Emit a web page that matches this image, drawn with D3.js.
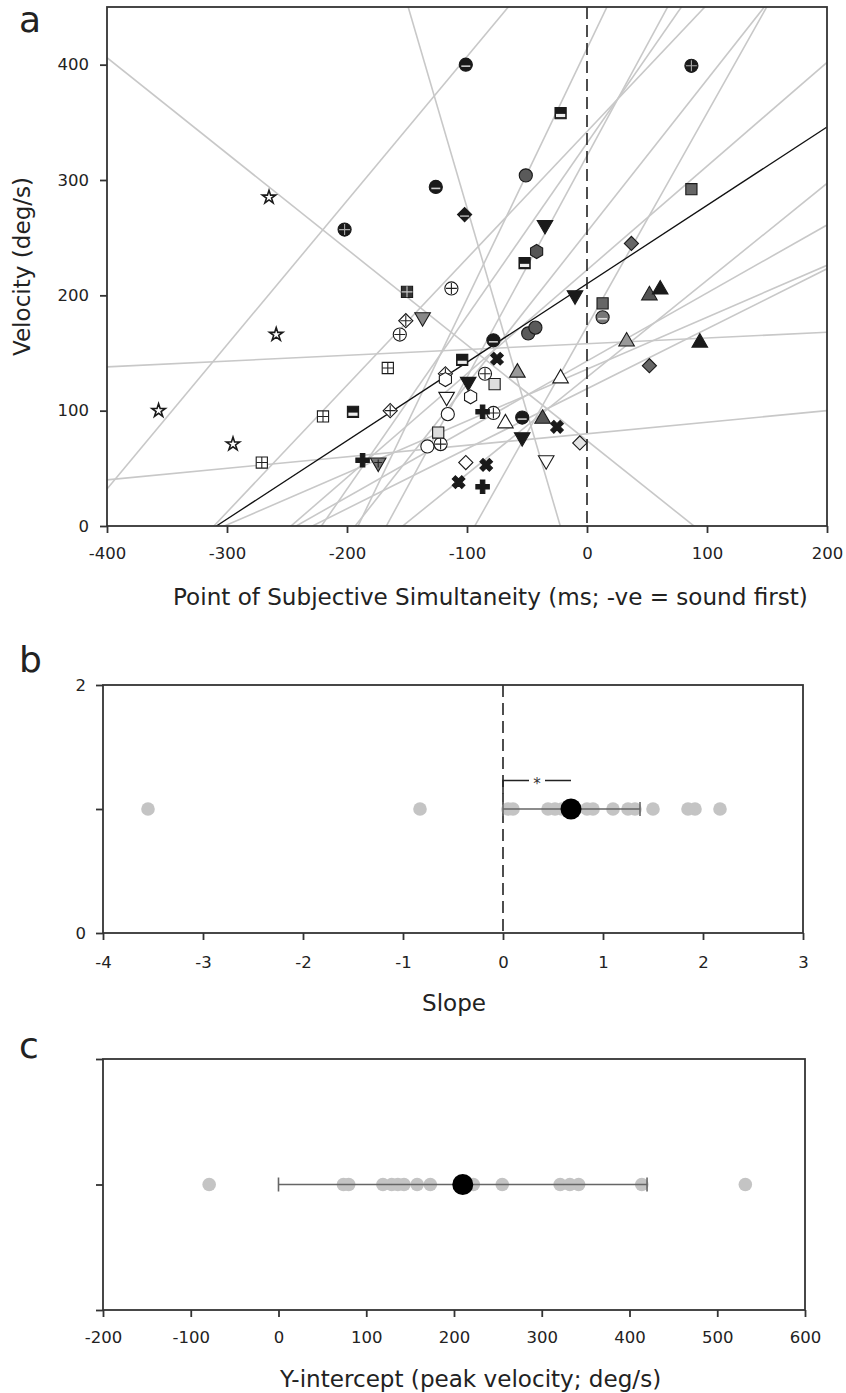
<!DOCTYPE html>
<html>
<head>
<meta charset="utf-8">
<script src="https://cdn.jsdelivr.net/npm/d3@7"></script>
<style>
  body { margin: 0; background: #fff; }
  svg { display: block; font-family: "DejaVu Sans", sans-serif; }
</style>
</head>
<body>
<svg id="chart" width="846" height="1393"></svg>
<script>
// ---- values ----

// panel a points: PSS (ms), peak velocity (deg/s), marker of the observer
var pssMs = [
  -357, -295, -265, -259,          // star
  -202, 87,                        // black circle, cross
  -126, -101, -78, -54,            // black circle, bar
  -102,                            // black diamond, bar
  -22, -52, -104, -195,            // black square, bar
  -51, -49, -43,                   // dark circle
  87, 13,                          // dark square
  -42,                             // dark hexagon
  37, 52,                          // dark diamond
  -35, -10, -99, -54,              // black down-triangle
  -137,                            // grey down-triangle
  -150,                            // dark grid square
  -166, -220, -271,                // grid square
  -113, -156, -85, -78, -122,      // open circle, cross
  13,                              // grey circle, bar
  -151, -164, -118,                // open diamond, cross
  -117, -34,                       // open down-triangle
  -116, -133,                      // open circle
  -97, -118,                       // open hexagon
  -58, -37, 33, 52,                // grey / dark triangles
  61, 94,                          // black triangle
  -68, -22,                        // open triangle
  -101, -6,                        // open diamonds
  -75, -25, -84, -107,             // x
  -187, -87, -87,                  // plus
  -77, -124,                       // light square
  -174                             // grid down-triangle
];
var velocity = [
  100, 71, 285, 166,
  257, 399,
  294, 400, 161, 94,
  270,
  358, 228, 144, 99,
  304, 167, 172,
  292, 193,
  238,
  245, 139,
  261, 200, 125, 77,
  181,
  203,
  137, 95, 55,
  206, 166, 132, 98, 71,
  181,
  178, 100, 132,
  112, 57,
  97, 69,
  112, 127,
  133, 93, 160, 200,
  205, 159,
  89, 128,
  55, 72,
  145, 86, 53, 38,
  57, 34, 99,
  123, 81,
  55
];
var markerKeys = [
  'star', 'star', 'star', 'star',
  'circBlackCross', 'circBlackCross',
  'circBlackBar', 'circBlackBar', 'circBlackBar', 'circBlackBar',
  'diaBlackBar',
  'sqBlackBar', 'sqBlackBar', 'sqBlackBar', 'sqBlackBar',
  'circDark', 'circDark', 'circDark',
  'sqDark', 'sqDark',
  'hexDark',
  'diaDark', 'diaDark',
  'triDownBlack', 'triDownBlack', 'triDownBlack', 'triDownBlack',
  'triDownGray',
  'sqGridDark',
  'sqGrid', 'sqGrid', 'sqGrid',
  'circCross', 'circCross', 'circCross', 'circCross', 'circCross',
  'circGrayBar',
  'diaCross', 'diaCross', 'diaCross',
  'triDownWhite', 'triDownWhite',
  'circWhite', 'circWhite',
  'hexWhite', 'hexWhite',
  'triGray', 'triDark', 'triGray', 'triDark',
  'triBlack', 'triBlack',
  'triWhite', 'triWhite',
  'diaWhite', 'diaLight',
  'xBlack', 'xBlack', 'xBlack', 'xBlack',
  'plusBlack', 'plusBlack', 'plusBlack',
  'sqLight', 'sqLight',
  'triDownGrid'
];

// one regression line per observer (slope, y-intercept) -> panels a, b, c
var slopes     = [-3.55, -0.83, 0.05, 0.10, 1.25, 2.17, 1.10, 1.32, 1.92, 1.50, 1.85, 0.90, 0.84, 0.52, 0.45, 0.59];
var intercepts = [  -79,    74,  158,   80,  532,  414,  342,  255,  321,  332,  173,  222,  129,  119,  136,  143];

// group mean and its error bar
var meanSlope = 0.68;
var meanIntercept = 210;
var slopeCI = [0, 1.37];
var interceptCI = [0, 420];

// tick labels
var pssTicks = [-400, -300, -200, -100, 0, 100, 200];
var velocityTicks = [0, 100, 200, 300, 400];
var slopeTicks = [-4, -3, -2, -1, 0, 1, 2, 3];
var interceptTicks = [-200, -100, 0, 100, 200, 300, 400, 500, 600];

// ---- drawing ----
var svg = d3.select("#chart");
var ink = "#222";
var plain = function(d) { return String(d); };   // keeps the ascii hyphen of the figure

var markerStyles = {
  star:          { shape: 'star',     fill: '#fff' },
  circBlackCross:{ shape: 'circle',   fill: '#1a1a1a', pattern: 'cross', pc: '#aaa' },
  circBlackBar:  { shape: 'circle',   fill: '#1a1a1a', pattern: 'bar',   pc: '#ccc' },
  diaBlackBar:   { shape: 'diamond',  fill: '#1a1a1a', pattern: 'bar',   pc: '#aaa' },
  sqBlackBar:    { shape: 'square',   fill: '#1a1a1a', pattern: 'lower', pc: '#eee' },
  circDark:      { shape: 'circle',   fill: '#5a5a5a' },
  sqDark:        { shape: 'square',   fill: '#666' },
  hexDark:       { shape: 'hexagon',  fill: '#555' },
  diaDark:       { shape: 'diamond',  fill: '#666' },
  triDownBlack:  { shape: 'triDown',  fill: '#1a1a1a' },
  triDownGray:   { shape: 'triDown',  fill: '#888' },
  sqGridDark:    { shape: 'square',   fill: '#333', pattern: 'cross', pc: '#ccc' },
  sqGrid:        { shape: 'square',   fill: '#fff', pattern: 'cross', pc: '#222' },
  circCross:     { shape: 'circle',   fill: '#fff', pattern: 'cross', pc: '#222' },
  circGrayBar:   { shape: 'circle',   fill: '#777', pattern: 'bar',   pc: '#ddd' },
  diaCross:      { shape: 'diamond',  fill: '#fff', pattern: 'cross', pc: '#222' },
  triDownWhite:  { shape: 'triDown',  fill: '#fff' },
  circWhite:     { shape: 'circle',   fill: '#fff' },
  hexWhite:      { shape: 'hexagon',  fill: '#fff' },
  triGray:       { shape: 'triangle', fill: '#999' },
  triDark:       { shape: 'triangle', fill: '#555' },
  triBlack:      { shape: 'triangle', fill: '#1a1a1a' },
  triWhite:      { shape: 'triangle', fill: '#fff' },
  diaWhite:      { shape: 'diamond',  fill: '#fff' },
  diaLight:      { shape: 'diamond',  fill: '#e4e4e4' },
  xBlack:        { shape: 'times',    fill: '#1a1a1a' },
  plusBlack:     { shape: 'plus',     fill: '#1a1a1a' },
  sqLight:       { shape: 'square',   fill: '#ddd' },
  triDownGrid:   { shape: 'triDown',  fill: '#777', pattern: 'cross', pc: '#222' }
};

function hexPath(r) {
  var pts = d3.range(6).map(function(i) {
    var a = Math.PI / 6 + i * Math.PI / 3;
    return [r * Math.cos(a), r * Math.sin(a)];
  });
  return "M" + pts.join("L") + "Z";
}

function shapePath(shape) {
  switch (shape) {
    case 'circle':   return d3.symbol(d3.symbolCircle, 135)();
    case 'square':   return d3.symbol(d3.symbolSquare, 125)();
    case 'diamond':  return d3.symbol(d3.symbolSquare, 100)();
    case 'triangle':
    case 'triDown':  return d3.symbol(d3.symbolTriangle, 105)();
    case 'star':     return d3.symbol(d3.symbolStar, 55)();
    case 'plus':
    case 'times':    return d3.symbol(d3.symbolCross, 100)();
    case 'hexagon':  return hexPath(7);
  }
}

function shapeRotation(shape) {
  if (shape === 'diamond' || shape === 'times') return 45;
  if (shape === 'triDown') return 180;
  return 0;
}

function drawMarker(g, key, px, py) {
  var st = markerStyles[key];
  var m = g.append("g").attr("transform", "translate(" + px + "," + py + ")");
  m.append("path")
    .attr("d", shapePath(st.shape))
    .attr("transform", "rotate(" + shapeRotation(st.shape) + ")")
    .attr("fill", st.fill)
    .attr("stroke", "#1a1a1a")
    .attr("stroke-width", st.shape === 'star' ? 1.6 : 1.1);
  if (st.pattern === 'cross') {
    var r = st.shape === 'triDown' ? 4 : 5.5;
    m.append("path")
      .attr("d", "M" + (-r) + ",0H" + r + (st.shape === 'triDown' ? "M0,-3V5" : "M0," + (-r) + "V" + r))
      .attr("stroke", st.pc).attr("stroke-width", 1.1).attr("fill", "none");
  } else if (st.pattern === 'bar') {
    m.append("path").attr("d", "M-4.5,1.5H4.5")
      .attr("stroke", st.pc).attr("stroke-width", 1.6);
  } else if (st.pattern === 'lower') {
    m.append("rect").attr("x", -4.6).attr("y", 0.8).attr("width", 9.2).attr("height", 3.2)
      .attr("fill", st.pc);
  }
}

function styleAxis(g, fontSize) {
  g.attr("font-family", null).attr("font-size", null);
  g.select(".domain").remove();
  g.selectAll(".tick line").attr("stroke", "#333").attr("stroke-width", 1.8);
  g.selectAll(".tick text").attr("fill", ink).style("font-size", fontSize + "px");
}

function drawFrame(x, y) {
  svg.append("rect")
    .attr("x", x.range()[0]).attr("y", y.range()[1])
    .attr("width", x.range()[1] - x.range()[0])
    .attr("height", y.range()[0] - y.range()[1])
    .attr("fill", "none").attr("stroke", "#333").attr("stroke-width", 1.8);
}

function panelLetter(txt, px, py) {
  svg.append("text").attr("x", px).attr("y", py).text(txt)
    .attr("fill", ink).style("font-size", "36px");
}

var tickFont = 16.5;
var titleFont = 22;

// ================= panel a =================
var xA = d3.scaleLinear().domain([-400, 200]).range([107, 827]);
var yA = d3.scaleLinear().domain([0, 450]).range([526, 7]);

svg.append("clipPath").attr("id", "clipA").append("rect")
  .attr("x", xA(-400)).attr("y", yA(450))
  .attr("width", xA(200) - xA(-400)).attr("height", yA(0) - yA(450));

var linesA = svg.append("g").attr("clip-path", "url(#clipA)");
slopes.forEach(function(m, i) {
  var b = intercepts[i];
  linesA.append("line")
    .attr("x1", xA(-400)).attr("y1", yA(b + m * -400))
    .attr("x2", xA(200)).attr("y2", yA(b + m * 200))
    .attr("stroke", "#c8c8c8").attr("stroke-width", 1.6);
});

// group mean line, from the x axis to the right edge
linesA.append("line")
  .attr("x1", xA(-meanIntercept / meanSlope)).attr("y1", yA(0))
  .attr("x2", xA(200)).attr("y2", yA(meanIntercept + meanSlope * 200))
  .attr("stroke", "#111").attr("stroke-width", 1.3);

// zero PSS
svg.append("line")
  .attr("x1", xA(0)).attr("x2", xA(0)).attr("y1", yA(450)).attr("y2", yA(0))
  .attr("stroke", "#222").attr("stroke-width", 1.6).attr("stroke-dasharray", "12,6");

var marksA = svg.append("g");
pssMs.forEach(function(v, i) {
  drawMarker(marksA, markerKeys[i], xA(v), yA(velocity[i]));
});

drawFrame(xA, yA);
svg.append("g").attr("transform", "translate(0," + yA(0) + ")")
  .call(d3.axisBottom(xA).tickValues(pssTicks).tickFormat(plain).tickSize(7).tickPadding(14).tickSizeOuter(0))
  .call(styleAxis, tickFont);
svg.append("g").attr("transform", "translate(" + xA(-400) + ",0)")
  .call(d3.axisLeft(yA).tickValues(velocityTicks).tickFormat(plain).tickSize(7).tickPadding(11).tickSizeOuter(0))
  .call(styleAxis, tickFont);

var titleA = svg.append("text")
  .attr("x", 173).attr("y", 605)
  .attr("fill", ink).style("font-size", titleFont + "px")
  .text("Point of Subjective Simultaneity (ms; -ve = sound first)");
// the printed title runs from x=173 to x=808
titleFont = titleFont * 635 / titleA.node().getComputedTextLength();
titleA.style("font-size", titleFont + "px");

svg.append("text")
  .attr("transform", "translate(22," + ((yA(0) + yA(450)) / 2) + ") rotate(-90)")
  .attr("text-anchor", "middle").attr("dy", "0.35em")
  .attr("fill", ink).style("font-size", titleFont + "px")
  .text("Velocity (deg/s)");

panelLetter("a", 19, 32);

// ================= panel b =================
var xB = d3.scaleLinear().domain([-4, 3]).range([103, 803]);
var yB = d3.scaleLinear().domain([0, 2]).range([933, 685]);

svg.append("line")
  .attr("x1", xB(0)).attr("x2", xB(0)).attr("y1", yB(2)).attr("y2", yB(0))
  .attr("stroke", "#222").attr("stroke-width", 1.6).attr("stroke-dasharray", "12,6");

svg.append("g").selectAll("circle").data(slopes).enter().append("circle")
  .attr("cx", function(d) { return xB(d); })
  .attr("cy", yB(1))
  .attr("r", 6.8)
  .attr("fill", "#c4c4c4");

function errorBar(x, y, ci) {
  var g = svg.append("g").attr("stroke", "#666").attr("stroke-width", 1.6);
  g.append("line").attr("x1", x(ci[0])).attr("x2", x(ci[1])).attr("y1", y(1)).attr("y2", y(1));
  ci.forEach(function(c) {
    g.append("line").attr("x1", x(c)).attr("x2", x(c)).attr("y1", y(1) - 7).attr("y2", y(1) + 7);
  });
}
errorBar(xB, yB, slopeCI);

svg.append("circle").attr("cx", xB(meanSlope)).attr("cy", yB(1)).attr("r", 10.5).attr("fill", "#000");

// significance bracket from zero to the mean slope
var starX = (xB(0) + xB(meanSlope)) / 2;
var brY = yB(1.23);
svg.append("path")
  .attr("d", "M" + xB(0) + "," + (brY + 13) + "V" + brY + "H" + (starX - 8) +
             "M" + (starX + 8) + "," + brY + "H" + xB(meanSlope))
  .attr("fill", "none").attr("stroke", "#222").attr("stroke-width", 1.5);
svg.append("text").attr("x", starX).attr("y", brY + 9)
  .attr("text-anchor", "middle").attr("fill", "#333").style("font-size", "15px").text("*");

drawFrame(xB, yB);
svg.append("g").attr("transform", "translate(0," + yB(0) + ")")
  .call(d3.axisBottom(xB).tickValues(slopeTicks).tickFormat(plain).tickSize(7).tickPadding(16).tickSizeOuter(0))
  .call(styleAxis, tickFont);
svg.append("g").attr("transform", "translate(" + xB(-4) + ",0)")
  .call(d3.axisLeft(yB).tickValues([0, 1, 2]).tickSize(7).tickPadding(10).tickSizeOuter(0)
    .tickFormat(function(d) { return d === 1 ? "" : String(d); }))
  .call(styleAxis, tickFont);

svg.append("text").attr("x", 454).attr("y", 1011).attr("text-anchor", "middle")
  .attr("fill", ink).style("font-size", titleFont + "px").text("Slope");

panelLetter("b", 19, 672);

// ================= panel c =================
var xC = d3.scaleLinear().domain([-200, 600]).range([103, 805]);
var yC = d3.scaleLinear().domain([0, 2]).range([1310, 1059]);

svg.append("g").selectAll("circle").data(intercepts).enter().append("circle")
  .attr("cx", function(d) { return xC(d); })
  .attr("cy", yC(1))
  .attr("r", 6.8)
  .attr("fill", "#c4c4c4");

errorBar(xC, yC, interceptCI);
svg.append("circle").attr("cx", xC(meanIntercept)).attr("cy", yC(1)).attr("r", 10.5).attr("fill", "#000");

drawFrame(xC, yC);
svg.append("g").attr("transform", "translate(0," + yC(0) + ")")
  .call(d3.axisBottom(xC).tickValues(interceptTicks).tickFormat(plain).tickSize(7).tickPadding(14).tickSizeOuter(0))
  .call(styleAxis, tickFont);
svg.append("g").attr("transform", "translate(" + xC(-200) + ",0)")
  .call(d3.axisLeft(yC).tickValues([0, 1, 2]).tickSize(7).tickSizeOuter(0).tickFormat(""))
  .call(styleAxis, tickFont);

svg.append("text").attr("x", 280).attr("y", 1387)
  .attr("fill", ink).style("font-size", titleFont + "px").text("Y-intercept (peak velocity; deg/s)");

panelLetter("c", 19, 1058);
</script>
</body>
</html>
